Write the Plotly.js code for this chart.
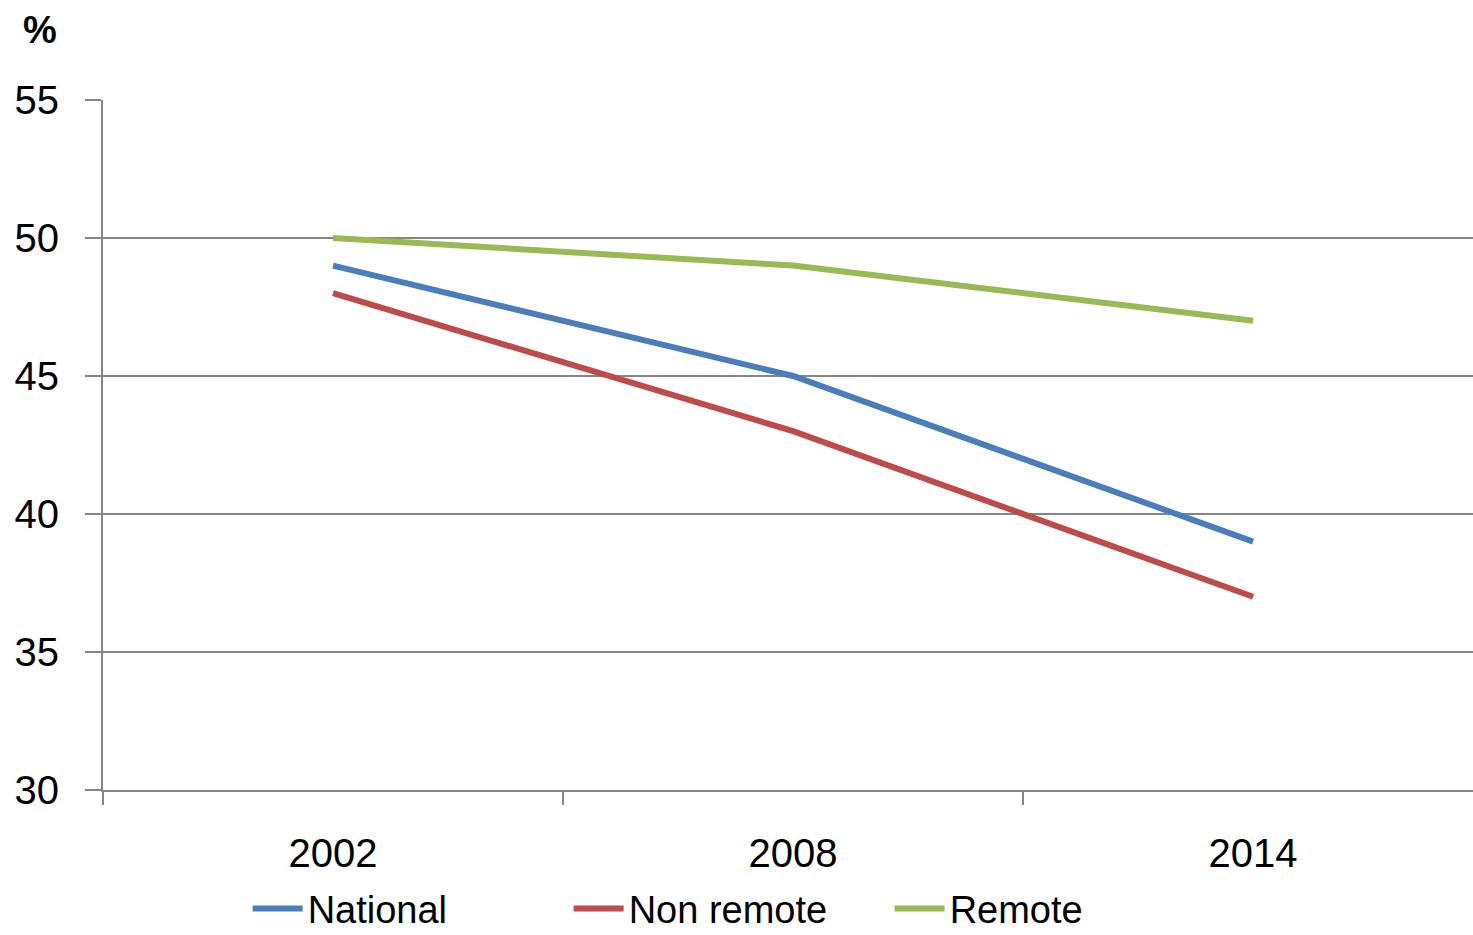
<!DOCTYPE html>
<html>
<head>
<meta charset="utf-8">
<script src="https://cdn.plot.ly/plotly-3.0.1.min.js"></script>
<style>html,body{margin:0;padding:0;background:#fff;}#chart{width:1473px;height:935px;}</style>
</head>
<body>
<div id="chart"></div>
<script>
const years = ['2002', '2008', '2014'];
const national = [49, 45, 39];
const nonRemote = [48, 43, 37];
const remote = [50, 49, 47];
const seriesNames = ['National', 'Non remote', 'Remote'];
const seriesColors = ['#4A7EBB', '#BE4B48', '#98B954'];
const yTicks = [30, 35, 40, 45, 50, 55];

const FONT = 'Liberation Sans, Arial, sans-serif';
const values = [national, nonRemote, remote];
const traces = values.map((v, i) => ({
  type: 'scatter', mode: 'lines', x: years, y: v, name: seriesNames[i],
  line: {color: seriesColors[i], width: 6}
}));

const layout = {
  width: 1473, height: 935,
  margin: {l: 103, r: 0, t: 100, b: 145, autoexpand: false},
  paper_bgcolor: '#fff', plot_bgcolor: '#fff',
  font: {family: FONT, size: 40, color: '#000'},
  showlegend: true,
  legend: {orientation: 'h', xref: 'container', yref: 'container', x: 0.495, xanchor: 'center', y: 0.028, yanchor: 'middle',
    font: {size: 38, family: FONT}, itemwidth: 50, entrywidth: 256, entrywidthmode: 'pixels'},
  xaxis: {type: 'category', range: [-0.5, 2.478], tickson: 'boundaries',
    ticks: 'outside', ticklen: 13, tickwidth: 2, tickcolor: '#868686',
    showgrid: false, showline: true, linecolor: '#868686', linewidth: 2,
    tickfont: {size: 40, family: FONT}, ticklabelstandoff: 27, fixedrange: true},
  yaxis: {range: [30, 55], tickvals: yTicks, ticks: 'outside', ticklen: 16, tickwidth: 2,
    tickcolor: '#868686', showgrid: true, gridcolor: '#868686', gridwidth: 2,
    showline: true, linecolor: '#868686', linewidth: 2, zeroline: false,
    tickfont: {size: 40, family: FONT}, ticklabelstandoff: 18, fixedrange: true},
  annotations: [{text: '<b>%</b>', xref: 'paper', yref: 'paper', x: -0.046, y: 1.101,
    xanchor: 'center', yanchor: 'middle', showarrow: false, font: {size: 38, family: FONT}}]
};
Plotly.newPlot('chart', traces, layout, {displayModeBar: false, staticPlot: true});
</script>
</body>
</html>
